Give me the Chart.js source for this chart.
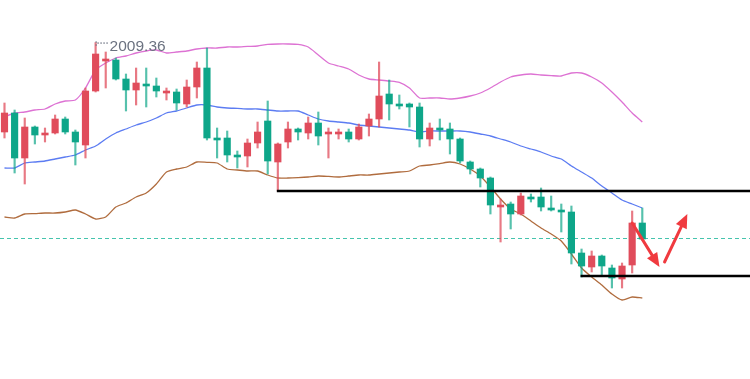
<!DOCTYPE html>
<html><head><meta charset="utf-8">
<script src="https://cdn.jsdelivr.net/npm/chart.js@4/dist/chart.umd.min.js"></script>
<style>html,body{margin:0;padding:0;background:#fff;}#wrap{width:750px;height:379px;position:relative;}</style>
</head><body><div id="wrap"><canvas id="c"></canvas></div>
<script>
// Candle values (price)
const openP = [1987,1991.75,1980.5,1988.25,1986.25,1986.75,1990.25,1987,1983.75,1997.25,
2004.75,2005,2000.25,1997.5,1999,1998.5,1996.75,1997,1994,1998.25,
2003,1985.5,1985.5,1981.25,1981,1984.25,1989.75,1979.5,1984.5,1987.75,
1986.75,1989.25,1986.5,1986.5,1987,1985.25,1988.5,1990.25,1996.5,1994,
1994,1993.25,1985.25,1988,1987.75,1985.25,1979.5,1977.75,1975.5,1968.25,
1969,1966.5,1970.75,1970.75,1968,1967.5,1967,1956.75,1953.25,1956,
1953,1950.25,1953.75,1964.25];
const highP = [1994.25,1992.5,1990.5,1988.5,1988,1991.25,1990.75,1987.5,1998,2009.36,
2007,2005.5,2001.5,2003,2003,2000.5,1998,1997.75,2000,2004.5,
2008,1988,1987.25,1982.25,1985.25,1989.5,1994.75,1984.25,1989.5,1988,
1990.75,1992,1988,1987.75,1987.75,1989,1991.5,2004.5,2000,1996.25,
1994.25,1994.25,1989.25,1990.25,1989.25,1985.5,1979.75,1978,1975.75,1970.25,
1969.5,1971.75,1971.5,1973,1971,1969,1968.5,1957.75,1957.25,1956.25,
1953.75,1954.25,1967.25,1968];
const lowP = [1985.5,1976.75,1974,1984,1984.5,1986.5,1986.5,1978.75,1980.5,1997,
1998,2000,1992.25,1993.75,1993.25,1995.75,1995,1992.5,1993.25,1995.5,
1985,1980.5,1979.5,1978,1978.25,1983,1976.5,1972.25,1983,1985,
1985.25,1983.75,1980.5,1985.25,1984.5,1985,1986,1988.25,1990,1992.75,
1988.25,1983.25,1983.5,1985,1981.5,1979.25,1976.5,1973.25,1966.5,1959.5,
1962.75,1966.25,1969.5,1967.25,1967.25,1962,1954,1950.75,1952,1951.25,
1948,1948,1951.75,1960];
const closeP = [1991.75,1980.5,1988.25,1986.25,1986.75,1990.25,1987,1984.5,1997.25,2006.5,
2005.25,2000.25,1997.5,1999.25,1998.5,1997.25,1997.25,1994.25,1998.25,2003,
1985.5,1985,1981.25,1980.75,1984.25,1987,1979.75,1984,1987.75,1987,
1989.25,1986,1987,1987,1985.25,1988.25,1990.25,1996,1994,1993.5,
1993.25,1985.25,1988,1987.5,1985.25,1979.75,1977.75,1975.5,1968.75,1968.75,
1966.5,1971,1970.25,1968.25,1967.5,1967,1956.75,1953.5,1956,1953.5,
1950.5,1953.5,1964.25,1960.25];
// Bollinger bands
const upperBand = [1990.75,1991.75,1992,1992.5,1992.75,1994,1994.75,1995,1998,2002.5,
2004.25,2005.5,2006,2006.75,2007.25,2007.5,2006.75,2007,2007.25,2007.75,
2008,2008,2008.25,2008.25,2008.4,2008.5,2008.9,2009,2009,2008.9,
2008.25,2006.25,2004.25,2003.5,2002.75,2001.25,2000.25,2000,1999.75,1999.4,
1998,1995.5,1995.5,1995.5,1995.25,1995.5,1996,1996.75,1998,1999.5,
2000.75,2001.25,2001.5,2001.25,2001.1,2001,2001.75,2001.75,2000.75,1999.25,
1997,1994.5,1991.75,1989.5];
const middleBand = [1978,1978,1979.25,1979.5,1979.75,1980.25,1980.75,1981.25,1982.5,1983.5,
1985.25,1986.75,1987.75,1988.75,1989.5,1990.5,1991.75,1992.25,1993,1993.75,
1993.75,1993.25,1993,1992.9,1992.75,1992.75,1992.5,1992.25,1992.25,1992.25,
1991.25,1990.25,1989.75,1989.5,1989.25,1988.75,1988.5,1988.25,1988,1987.75,
1987.5,1987,1987.25,1987.25,1987.25,1987.25,1987,1986.5,1986,1985.25,
1984.5,1983.5,1982.75,1982,1981,1980.25,1978.5,1977,1975.5,1973.5,
1971.75,1970,1969,1968];
const lowerBand = [1965.75,1965.5,1966.5,1966.6,1966.75,1966.75,1967,1967.5,1966.5,1965.25,
1965.75,1968.25,1969.25,1970.75,1971.75,1974,1977,1977.75,1978.25,1979.5,
1979.4,1979.25,1977.75,1977.5,1977.25,1977.25,1976.25,1975.5,1975.5,1975.6,
1975.75,1976,1975.9,1975.75,1976,1976.25,1976.25,1976.5,1976.75,1977,
1977.25,1978.5,1978.75,1979.1,1979.5,1979,1977.75,1976,1973.25,1970.25,
1967.75,1966.5,1964.75,1963,1961.5,1959.75,1956.5,1953,1950.75,1948.75,
1946.5,1945,1945.75,1945.5];
// Annotation levels
const supportLevels = [1972.25, 1951];
const supportStart = [27, 57];
const arrows = [{from:[62,1964.25], to:[64.7,1953.25]}, {from:[65.2,1954.5], to:[67.45,1966.5]}];

const UP = '#e04c5b', DOWN = '#0ea689';
const UP_W = 'rgba(224,76,91,0.75)', DOWN_W = 'rgba(14,166,137,0.7)';
const idx = openP.map((_, i) => i);
const colors = idx.map(i => closeP[i] >= openP[i] ? UP : DOWN);
const wickColors = idx.map(i => closeP[i] >= openP[i] ? UP_W : DOWN_W);

const annot = {
  id: 'annot',
  beforeDatasetsDraw(chart) {
    const {ctx, scales:{x, y}, chartArea} = chart;
    ctx.save();
    ctx.strokeStyle = '#45c4ad';
    ctx.lineWidth = 1;
    ctx.setLineDash([4,3]);
    const py = Math.round(y.getPixelForValue(closeP[closeP.length-1])) - 0.5;
    ctx.beginPath(); ctx.moveTo(chartArea.left, py); ctx.lineTo(chartArea.right, py); ctx.stroke();
    ctx.restore();
  },
  afterDatasetsDraw(chart) {
    const {ctx, scales:{x, y}, chartArea} = chart;
    ctx.save();
    // support lines
    ctx.strokeStyle = '#000'; ctx.lineWidth = 2.5;
    supportLevels.forEach((lv, k) => {
      const py = y.getPixelForValue(lv);
      ctx.beginPath(); ctx.moveTo(x.getPixelForValue(supportStart[k]) - 1, py); ctx.lineTo(chartArea.right, py); ctx.stroke();
    });
    // arrows
    ctx.strokeStyle = '#f03a3f'; ctx.fillStyle = '#f03a3f'; ctx.lineWidth = 3; ctx.lineCap = 'round';
    arrows.forEach(a => {
      const x1 = x.getPixelForValue(a.from[0]), y1 = y.getPixelForValue(a.from[1]);
      const x2 = x.getPixelForValue(a.to[0]), y2 = y.getPixelForValue(a.to[1]);
      const ang = Math.atan2(y2 - y1, x2 - x1);
      const hl = 14, hw = 6;
      const bx = x2 - hl * Math.cos(ang), by = y2 - hl * Math.sin(ang);
      ctx.beginPath(); ctx.moveTo(x1, y1); ctx.lineTo(bx, by); ctx.stroke();
      ctx.beginPath();
      ctx.moveTo(x2, y2);
      ctx.lineTo(bx + hw * Math.sin(ang), by - hw * Math.cos(ang));
      ctx.lineTo(bx - hw * Math.sin(ang), by + hw * Math.cos(ang));
      ctx.closePath(); ctx.fill();
    });
    // max label
    let mi = 0; highP.forEach((v, i) => { if (v > highP[mi]) mi = i; });
    const mx = x.getPixelForValue(mi), my = y.getPixelForValue(highP[mi]);
    ctx.strokeStyle = '#6b7280'; ctx.lineWidth = 1; ctx.setLineDash([1,2]);
    ctx.beginPath(); ctx.moveTo(mx + 0.5, my - 1); ctx.lineTo(mx + 0.5, my + 4); ctx.stroke();
    ctx.beginPath(); ctx.moveTo(mx + 2, my + 0.5); ctx.lineTo(mx + 13, my + 0.5); ctx.stroke();
    ctx.setLineDash([]);
    ctx.fillStyle = '#6b7280';
    ctx.font = '15.5px "Liberation Sans", Arial, sans-serif';
    ctx.textBaseline = 'middle'; ctx.textAlign = 'left';
    ctx.fillText(highP[mi].toFixed(2), mx + 14, my + 4);
    ctx.restore();
  }
};

const lineDs = (data, color) => ({
  type: 'line', data: idx.map(i => ({x: i, y: data[i]})), borderColor: color, borderWidth: 1.3,
  pointRadius: 0, tension: 0.2, fill: false, order: 3
});

new Chart(document.getElementById('c'), {
  type: 'bar',
  data: {
    datasets: [
      { label: 'body', data: idx.map(i => ({x: i, y: [openP[i], closeP[i]]})), backgroundColor: colors,
        barThickness: 6.5, grouped: false, minBarLength: 1.5, order: 1 },
      { label: 'wick', data: idx.map(i => ({x: i, y: [lowP[i], highP[i]]})), backgroundColor: wickColors,
        barThickness: 1.5, grouped: false, order: 2 },
      lineDs(upperBand, '#dd72d3'),
      lineDs(middleBand, '#5c7cf2'),
      lineDs(lowerBand, '#b06c3e')
    ]
  },
  options: {
    responsive: true, maintainAspectRatio: false, animation: false, devicePixelRatio: 1,
    layout: { padding: 0 },
    plugins: { legend: { display: false }, tooltip: { enabled: false } },
    scales: {
      x: { type: 'linear', min: -0.444, max: 73.64, display: false, offset: false, grid: { display: false } },
      y: { type: 'linear', min: 1925.25, max: 2020, display: false, grid: { display: false } }
    }
  },
  plugins: [annot]
});
</script>
</body></html>
